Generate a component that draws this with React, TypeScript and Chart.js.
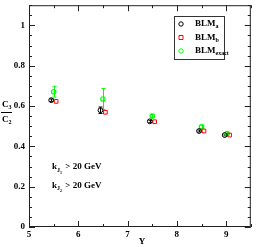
import React, { useEffect, useRef } from "react";
import { Chart, registerables } from "chart.js";

Chart.register(...registerables);

// Data
const rapidity = [5.5, 6.5, 7.5, 8.5, 9];
const xBlmA = [5.45, 6.45, 7.45, 8.45, 8.97];
const xBlmB = [5.55, 6.55, 7.55, 8.55, 9.07];
const xBlmExact = [5.5, 6.5, 7.5, 8.5, 9.02];
const blmA = [0.629, 0.579, 0.524, 0.476, 0.456];
const blmAErr = [0.006, 0.016, 0.005, 0.005, 0.004];
const blmB = [0.623, 0.569, 0.522, 0.476, 0.456];
const blmExact = [0.671, 0.635, 0.55, 0.497, 0.464];
const blmExactErr = [0.027, 0.052, 0.008, 0.008, 0.006];
const xTicks = [5, 6, 7, 8, 9];
const yTicks = [0, 0.2, 0.4, 0.6, 0.8, 1];
const legendSubs = ["a", "b", "exact"];

const FONT = "'Liberation Serif', 'Times New Roman', serif";

const drawSub = (
  ctx: CanvasRenderingContext2D,
  x: number,
  y: number,
  main: string,
  sub: string,
  size: number
) => {
  ctx.font = `bold ${size}px ${FONT}`;
  ctx.fillText(main, x, y);
  const w = ctx.measureText(main).width;
  ctx.font = `bold ${Math.round(size * 0.65)}px ${FONT}`;
  ctx.fillText(sub, x + w, y + size * 0.3);
  return w + ctx.measureText(sub).width;
};

const overlay = {
  id: "overlay",
  beforeDatasetsDraw(chart: any) {
    const ctx = chart.ctx as CanvasRenderingContext2D;
    const xs = chart.scales.x;
    const ys = chart.scales.y;
    const bars = [
      { x: xBlmA, y: blmA, e: blmAErr, c: "#000000" },
      { x: xBlmExact, y: blmExact, e: blmExactErr, c: "#00ff00" },
    ];
    ctx.save();
    bars.forEach((b) => {
      ctx.strokeStyle = b.c;
      ctx.lineWidth = 1;
      b.x.forEach((xv, i) => {
        const px = Math.round(xs.getPixelForValue(xv)) + 0.5;
        const top = ys.getPixelForValue(b.y[i] + b.e[i]);
        const bot = ys.getPixelForValue(b.y[i] - b.e[i]);
        ctx.beginPath();
        ctx.moveTo(px, top);
        ctx.lineTo(px, bot);
        ctx.moveTo(px - 2, top);
        ctx.lineTo(px + 2, top);
        ctx.moveTo(px - 2, bot);
        ctx.lineTo(px + 2, bot);
        ctx.stroke();
      });
    });
    ctx.restore();
  },
  afterDraw(chart: any) {
    const ctx = chart.ctx as CanvasRenderingContext2D;
    const { left, right, top, bottom } = chart.chartArea;
    const xs = chart.scales.x;
    const ys = chart.scales.y;
    ctx.save();
    ctx.strokeStyle = "#222";
    ctx.lineWidth = 1;
    ctx.strokeRect(left + 0.5, top + 0.5, right - left - 1, bottom - top - 1);
    ctx.beginPath();
    for (let i = 0; i <= 9; i++) {
      const v = 5 + i * 0.5;
      const len = i % 2 === 0 ? 6 : 3;
      const px = Math.round(xs.getPixelForValue(v)) + 0.5;
      ctx.moveTo(px, bottom);
      ctx.lineTo(px, bottom - len);
      ctx.moveTo(px, top);
      ctx.lineTo(px, top + len);
    }
    for (let i = 0; i <= 22; i++) {
      const v = i * 0.05;
      const len = i % 4 === 0 ? 6 : 3;
      const py = Math.round(ys.getPixelForValue(v)) + 0.5;
      ctx.moveTo(left, py);
      ctx.lineTo(left + len, py);
      ctx.moveTo(right, py);
      ctx.lineTo(right - len, py);
    }
    ctx.stroke();

    // Legend
    ctx.fillStyle = "#fff";
    ctx.fillRect(174.5, 16.5, 50, 43);
    ctx.strokeStyle = "#333";
    ctx.strokeRect(174.5, 16.5, 50, 43);
    const rows = [24, 37.5, 51];
    chart.data.datasets.forEach((ds: any, i: number) => {
      const y = rows[i];
      ctx.strokeStyle = ds.borderColor;
      ctx.lineWidth = 1;
      ctx.beginPath();
      if (ds.pointStyle === "rect") {
        ctx.rect(179, y - 2, 4, 4);
      } else {
        ctx.arc(181, y, 2.2, 0, Math.PI * 2);
      }
      ctx.stroke();
      ctx.fillStyle = "#000";
      ctx.textBaseline = "middle";
      ctx.textAlign = "left";
      drawSub(ctx, 195, y, "BLM", legendSubs[i], 9);
    });

    // Annotation
    ctx.fillStyle = "#000";
    ctx.textBaseline = "middle";
    ctx.textAlign = "left";
    [["1", 167], ["2", 185.5]].forEach(([n, yy]: any) => {
      let x = 52;
      ctx.font = `bold 9px ${FONT}`;
      ctx.fillText("k", x, yy);
      x += ctx.measureText("k").width;
      ctx.font = `bold 6px ${FONT}`;
      ctx.fillText("J", x, yy + 3);
      x += ctx.measureText("J").width;
      ctx.font = `bold 4px ${FONT}`;
      ctx.fillText(n, x, yy + 5.5);
      x += ctx.measureText(n).width + 1;
      ctx.font = `bold 9px ${FONT}`;
      ctx.fillText(" > 20 GeV", x, yy);
    });

    // Y axis label as fraction
    ctx.textAlign = "left";
    drawSub(ctx, 2, 105, "C", "3", 9);
    ctx.strokeStyle = "#000";
    ctx.beginPath();
    ctx.moveTo(1, 112.5);
    ctx.lineTo(12, 112.5);
    ctx.stroke();
    drawSub(ctx, 2, 120, "C", "2", 9);

    // X axis label
    ctx.textAlign = "center";
    ctx.font = `bold 9px ${FONT}`;
    ctx.fillText("Y", 142, 242);
    ctx.restore();
  },
};

const zeroPad = (s: any) => {
  s.paddingTop = 0;
  s.paddingBottom = 0;
  s.paddingLeft = 0;
  s.paddingRight = 0;
};

export default function App() {
  const ref = useRef<HTMLCanvasElement>(null);
  useEffect(() => {
    if (!ref.current) return;
    const mk = (xv: number[], yv: number[]) => xv.map((x, i) => ({ x, y: yv[i] }));
    const chart = new Chart(ref.current, {
      type: "scatter",
      data: {
        labels: rapidity,
        datasets: [
          {
            label: "BLMa",
            data: mk(xBlmA, blmA),
            pointStyle: "circle",
            pointRadius: 2.4,
            borderColor: "#000000",
            backgroundColor: "rgba(255,255,255,0)",
            borderWidth: 1,
          },
          {
            label: "BLMb",
            data: mk(xBlmB, blmB),
            pointStyle: "rect",
            pointRadius: 2.6,
            borderColor: "#ff0000",
            backgroundColor: "rgba(255,255,255,0)",
            borderWidth: 1,
          },
          {
            label: "BLMexact",
            data: mk(xBlmExact, blmExact),
            pointStyle: "circle",
            pointRadius: 2.2,
            borderColor: "#00ff00",
            backgroundColor: "rgba(255,255,255,0)",
            borderWidth: 1.2,
          },
        ],
      },
      options: {
        animation: false,
        responsive: false,
        maintainAspectRatio: false,
        layout: { padding: { left: 0, right: 1, top: 1, bottom: 0 } },
        plugins: { legend: { display: false }, tooltip: { enabled: false } },
        scales: {
          x: {
            type: "linear",
            min: 5,
            max: 9.5,
            afterFit: (s: any) => {
              s.height = 20;
              zeroPad(s);
            },
            grid: { display: false, drawTicks: false },
            border: { display: false },
            afterBuildTicks: (s: any) => {
              s.ticks = xTicks.map((v) => ({ value: v }));
            },
            ticks: {
              padding: 2,
              maxRotation: 0,
              color: "#000",
              font: { family: FONT, size: 9, weight: "bold" },
              callback: (v: any) => String(v),
            },
          },
          y: {
            type: "linear",
            min: 0,
            max: 1.1,
            afterFit: (s: any) => {
              s.width = 29;
              zeroPad(s);
            },
            grid: { display: false, drawTicks: false },
            border: { display: false },
            afterBuildTicks: (s: any) => {
              s.ticks = yTicks.map((v) => ({ value: v }));
            },
            ticks: {
              padding: 4,
              color: "#000",
              font: { family: FONT, size: 9, weight: "bold" },
              callback: (v: any) => String(Math.round(v * 10) / 10),
            },
          },
        },
      },
      plugins: [overlay],
    } as any);
    return () => chart.destroy();
  }, []);
  return (
    <div style={{ position: "fixed", left: 0, top: 0, width: 256, height: 247 }}>
      <canvas ref={ref} width={256} height={247} style={{ width: 256, height: 247 }} />
    </div>
  );
}
